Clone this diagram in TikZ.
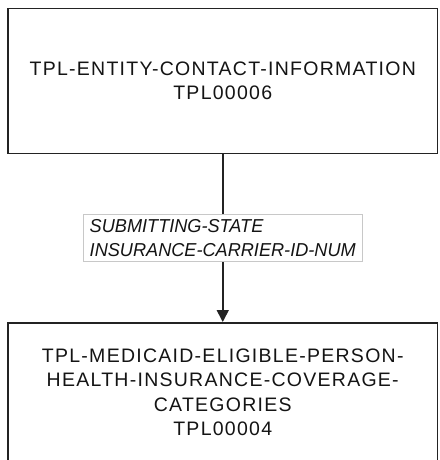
\documentclass[tikz,border=0pt]{standalone}
\usepackage{fontspec}
\setmainfont{Liberation Sans}
\newfontfamily\boxfont[LetterSpace=6.5]{Liberation Sans}
\newfontfamily\lblfont[FakeStretch=0.97]{Liberation Sans}
\usetikzlibrary{arrows.meta}
\definecolor{edgecol}{RGB}{35,35,35}
\definecolor{lblborder}{RGB}{200,200,200}
\definecolor{txtcol}{RGB}{20,20,20}
\tikzset{
  entity/.style={draw=edgecol, line width=1.5pt, fill=white, rectangle,
    minimum width=429.5pt, align=center, text=txtcol,
    font=\boxfont\fontsize{19.5pt}{24.5pt}\selectfont},
  rellabel/.style={draw=lblborder, line width=0.8pt, fill=white, rectangle,
    minimum height=47pt, minimum width=279pt, inner xsep=3pt, inner ysep=2pt,
    align=left, text=txtcol,
    font=\lblfont\itshape\fontsize{18.7pt}{23.5pt}\selectfont},
  rel/.style={draw=edgecol, line width=1.6pt,
    -{Triangle[length=12pt,width=12pt]}}
}
\begin{document}
\begin{tikzpicture}[x=1pt,y=-1pt]
  \useasboundingbox (0,0) rectangle (439,460);
  \clip (0,0) rectangle (439,460);
  \node[entity, minimum height=144.6pt] (top) at (222.75,81)
    {TPL-ENTITY-CONTACT-INFORMATION\\TPL00006};
  \node[entity, minimum height=139.5pt] (bot) at (222.75,392.5)
    {TPL-MEDICAID-ELIGIBLE-PERSON-\\HEALTH-INSURANCE-COVERAGE-\\CATEGORIES\\TPL00004};
  \draw[rel] (top.south) -- node[rellabel] (lbl)
    {SUBMITTING-STATE\\INSURANCE-CARRIER-ID-NUM} (bot.north);
\end{tikzpicture}
\end{document}
